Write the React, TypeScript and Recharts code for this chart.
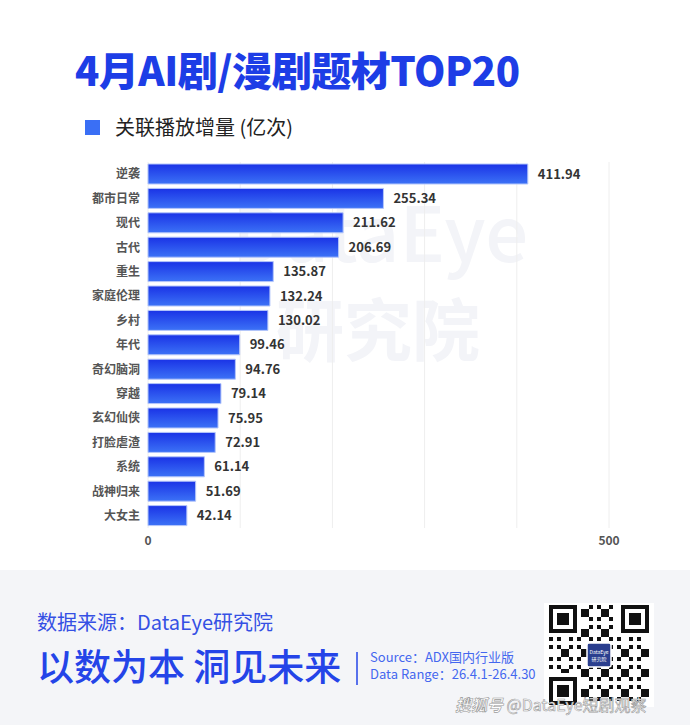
import React from 'react';
import { BarChart, Bar, XAxis, YAxis, CartesianGrid, LabelList } from 'recharts';

const genres = ['逆袭', '都市日常', '现代', '古代', '重生', '家庭伦理', '乡村', '年代', '奇幻脑洞', '穿越', '玄幻仙侠', '打脸虐渣', '系统', '战神归来', '大女主'];
const playGrowth = [411.94, 255.34, 211.62, 206.69, 135.87, 132.24, 130.02, 99.46, 94.76, 79.14, 75.95, 72.91, 61.14, 51.69, 42.14];
const xTicks = [0, 100, 200, 300, 400, 500];
const shownTicks = [0, 500];

const data = genres.map((name, i) => ({ name, value: playGrowth[i] }));

const FONT = '"Noto Sans CJK SC", "Noto Sans", sans-serif';

// decorative qr-ish block, not data
function QrBlock() {
  const cells: React.ReactNode[] = [];
  const n = 25;
  const size = 100 / n;
  for (let r = 0; r < n; r++) {
    for (let c = 0; c < n; c++) {
      const inFinder = (r < 8 && c < 8) || (r < 8 && c >= n - 8) || (r >= n - 8 && c < 8);
      if (inFinder) continue;
      const on = ((r * 7 + c * 13 + r * c * 3) % 5) < 2;
      if (on) cells.push(<rect key={r + '-' + c} x={c * size} y={r * size} width={size} height={size} fill="#111" />);
    }
  }
  const finder = (x: number, y: number) => (
    <g key={x + '_' + y}>
      <rect x={x} y={y} width={size * 7} height={size * 7} fill="#111" />
      <rect x={x + size} y={y + size} width={size * 5} height={size * 5} fill="#fff" />
      <rect x={x + size * 2} y={y + size * 2} width={size * 3} height={size * 3} fill="#111" />
    </g>
  );
  return (
    <g transform="translate(549,605)">
      <rect x={-5} y={-2} width={110} height={104} fill="#fff" />
      {cells}
      {finder(0, 0)}
      {finder(100 - size * 7, 0)}
      {finder(0, 100 - size * 7)}
      <rect x={38} y={38} width={24} height={24} rx={2} fill="#2b3f8f" stroke="#fff" strokeWidth={1.5} />
      <text x={50} y={49} fontSize={5} fill="#fff" textAnchor="middle" fontFamily={FONT}>DataEye</text>
      <text x={50} y={56} fontSize={5} fill="#fff" textAnchor="middle" fontFamily={FONT}>研究院</text>
    </g>
  );
}

export default function App() {
  return (
    <div style={{ position: 'relative', width: 690, height: 725, background: '#fff', overflow: 'hidden', fontFamily: FONT }}>
      <style>{'body{margin:0}'}</style>
      <svg width={690} height={725} style={{ position: 'absolute', left: 0, top: 0 }}>
        {/* watermark */}
        <text x={232} y={262} fontSize={76} fontWeight={500} fill="#f3f4f8" fontFamily={FONT}>DataEye</text>
        <text x={276} y={356} fontSize={68} fontWeight={700} fill="#f3f4f8" fontFamily={FONT}>研究院</text>

        <text x={75} y={86} fontSize={40} fontWeight={900} fill="#1d3de6" fontFamily={FONT} letterSpacing={-0.5}>4月AI剧/漫剧题材TOP20</text>

        <rect x={85} y={120} width={15} height={15} fill="#3a6ff5" />
        <text x={115} y={135} fontSize={20} fill="#222" fontFamily={FONT}>关联播放增量 (亿次)</text>

        <rect x={0} y={570} width={690} height={155} fill="#f4f5f8" />
        <text x={37} y={630} fontSize={20} fill="#3550e4" fontFamily={FONT}>数据来源：DataEye研究院</text>
        <text x={37} y={681} fontSize={37} fontWeight={500} fill="#2444e8" fontFamily={FONT}>以数为本 洞见未来</text>
        <line x1={357} y1={652} x2={357} y2={685} stroke="#2444e8" strokeWidth={1.5} />
        <text x={370} y={662} fontSize={13} fill="#4467ef" fontFamily={FONT}>Source：ADX国内行业版</text>
        <text x={370} y={679} fontSize={13} fill="#4467ef" fontFamily={FONT}>Data Range：26.4.1-26.4.30</text>
        <QrBlock />
        <text x={455} y={711} fontSize={16} fill="#fff" stroke="#999" strokeWidth={0.6} fontFamily={FONT}>
          <tspan fontStyle="italic" fontWeight={700}>搜狐号</tspan> @DataEye短剧观察
        </text>
      </svg>

      <div style={{ position: 'absolute', left: 0, top: 0 }}>
        <BarChart
          width={690}
          height={570}
          data={data}
          layout="vertical"
          barSize={20}
          margin={{ top: 162, right: 81, left: 0, bottom: 12 }}
        >
          <defs>
            <linearGradient id="barFill" x1="0" y1="0" x2="0" y2="1">
              <stop offset="0%" stopColor="#1a33e6" />
              <stop offset="100%" stopColor="#3c72f6" />
            </linearGradient>
          </defs>
          <CartesianGrid horizontal={false} stroke="#eeeeee" />
          <XAxis
            type="number"
            domain={[0, 500]}
            ticks={xTicks}
            tickFormatter={(v) => (shownTicks.includes(v) ? String(v) : '')}
            axisLine={false}
            tickLine={false}
            height={30}
            tick={{ fontSize: 12, fontWeight: 700, fill: '#555', fontFamily: FONT }}
          />
          <YAxis
            type="category"
            dataKey="name"
            width={148}
            axisLine={false}
            tickLine={false}
            interval={0}
            tick={{ fontSize: 12, fontWeight: 700, fill: '#555', fontFamily: FONT }}
          />
          <Bar dataKey="value" fill="url(#barFill)" stroke="#b4c6fa" strokeWidth={1} isAnimationActive={false}>
            <LabelList
              dataKey="value"
              position="right"
              offset={10}
              formatter={(v: number) => v.toFixed(2)}
              style={{ fontSize: 13, fontWeight: 700, fill: '#333', fontFamily: FONT }}
            />
          </Bar>
        </BarChart>
      </div>
    </div>
  );
}
